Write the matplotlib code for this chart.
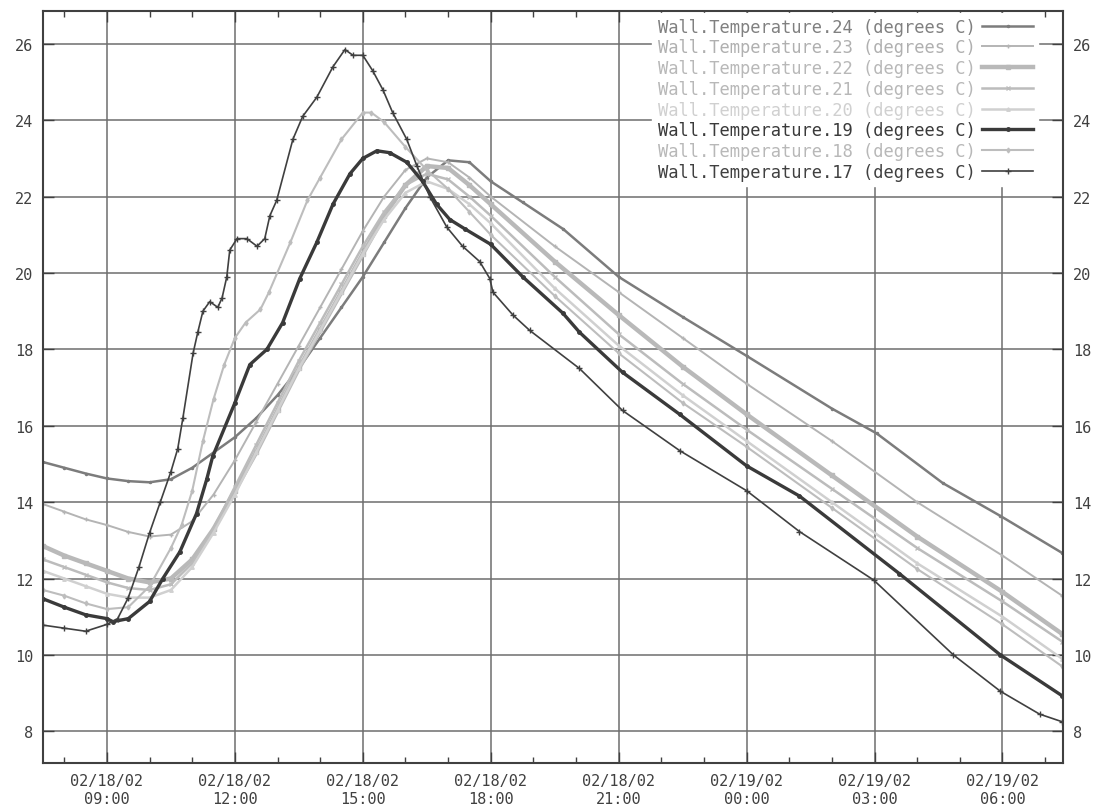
import matplotlib
matplotlib.use("Agg")
import matplotlib.pyplot as plt
import matplotlib.dates as mdates
import pandas as pd

# ── data: hours since 02/18/02 00:00, wall temperatures in degrees C ─────────
DAY0 = pd.Timestamp("2002-02-18")

h24 = [7.5, 8.0, 8.5, 9.0, 9.5, 10.0, 10.5, 11.0, 11.5, 12.0, 12.5, 13.0, 13.5, 14.0,
       14.5, 15.0, 15.5, 16.0, 16.5, 17.0, 17.5, 18.0, 18.75, 19.7, 21.0, 22.5, 24.0,
       26.0, 27.05, 28.6, 29.95, 31.4]
t24 = [15.05, 14.9, 14.75, 14.62, 14.55, 14.52, 14.6, 14.9, 15.3, 15.7, 16.2, 16.8, 17.5, 18.3,
       19.1, 19.9, 20.8, 21.7, 22.5, 22.95, 22.9, 22.4, 21.85, 21.15, 19.9, 18.85, 17.83,
       16.45, 15.8, 14.5, 13.64, 12.67]

h23 = [7.5, 8.0, 8.5, 9.0, 9.5, 10.0, 10.5, 11.0, 11.5, 12.0, 12.5, 13.0, 13.5, 14.0,
       14.5, 15.0, 15.5, 16.0, 16.5, 17.0, 17.5, 18.0, 19.5, 21.0, 22.5, 24.0, 26.0, 28.0,
       30.0, 31.4]
t23 = [13.95, 13.75, 13.55, 13.4, 13.22, 13.1, 13.15, 13.5, 14.2, 15.1, 16.1, 17.1, 18.1, 19.1,
       20.1, 21.1, 22.0, 22.7, 23.0, 22.9, 22.5, 22.0, 20.7, 19.5, 18.3, 17.1, 15.6, 14.0,
       12.6, 11.55]

h22 = h23
t22 = [12.85, 12.6, 12.4, 12.2, 12.0, 11.9, 12.0, 12.5, 13.3, 14.3, 15.3, 16.4, 17.5, 18.5,
       19.5, 20.5, 21.5, 22.3, 22.8, 22.75, 22.3, 21.8, 20.3, 18.9, 17.55, 16.3, 14.7, 13.1,
       11.65, 10.55]

h21 = h23
t21 = [12.5, 12.3, 12.1, 11.9, 11.75, 11.7, 11.85, 12.4, 13.3, 14.4, 15.5, 16.6, 17.7, 18.7,
       19.7, 20.7, 21.6, 22.3, 22.6, 22.45, 22.0, 21.5, 19.9, 18.4, 17.1, 15.9, 14.35, 12.8,
       11.4, 10.35]

h20 = h23
t20 = [12.2, 12.0, 11.8, 11.6, 11.5, 11.5, 11.7, 12.3, 13.2, 14.2, 15.3, 16.4, 17.5, 18.5,
       19.5, 20.5, 21.4, 22.1, 22.4, 22.2, 21.8, 21.3, 19.6, 18.1, 16.8, 15.6, 14.0, 12.4,
       11.0, 9.9]

h19 = [7.5, 8.0, 8.5, 9.0, 9.14, 9.5, 10.0, 10.31, 10.71, 11.1, 11.34, 11.48, 12.0, 12.35,
       12.75, 13.12, 13.52, 13.92, 14.3, 14.7, 15.0, 15.33, 15.63, 16.03, 16.4, 16.73, 17.04,
       17.4, 18.0, 18.75, 19.69, 20.08, 21.09, 22.43, 24.0, 25.24, 27.58, 29.95, 31.4]
t19 = [11.47, 11.25, 11.05, 10.95, 10.87, 10.95, 11.4, 12.0, 12.7, 13.7, 14.6, 15.2, 16.6, 17.6,
       18.0, 18.7, 19.85, 20.8, 21.8, 22.6, 23.0, 23.2, 23.15, 22.9, 22.4, 21.8, 21.4,
       21.15, 20.75, 19.9, 18.95, 18.45, 17.4, 16.3, 14.95, 14.16, 12.13, 10.0, 8.93]

h18 = [7.5, 8.0, 8.5, 9.0, 9.5, 10.0, 10.5, 10.75, 11.0, 11.25, 11.5, 11.75, 12.0, 12.25,
       12.6, 12.8, 13.3, 13.7, 14.0, 14.5, 15.0, 15.2, 15.5, 16.0, 16.5, 17.0, 17.5, 18.0,
       19.5, 21.0, 22.5, 24.0, 26.0, 28.0, 30.0, 31.4]
t18 = [11.7, 11.55, 11.35, 11.2, 11.25, 11.8, 12.8, 13.4, 14.3, 15.6, 16.7, 17.6, 18.3, 18.7,
       19.05, 19.5, 20.8, 21.9, 22.5, 23.5, 24.2, 24.2, 23.95, 23.3, 22.7, 22.2, 21.6, 21.0,
       19.4, 17.9, 16.6, 15.45, 13.85, 12.25, 10.8, 9.7]

h17 = [7.5, 8.0, 8.5, 9.0, 9.25, 9.5, 9.75, 10.0, 10.25, 10.5, 10.66, 10.78, 11.02, 11.13,
       11.25, 11.41, 11.6, 11.7, 11.81, 11.88, 12.05, 12.28, 12.52, 12.7, 12.82, 12.98, 13.36,
       13.59, 13.92, 14.3, 14.58, 14.77, 15.0, 15.23, 15.47, 15.7, 16.03, 16.27, 16.57, 16.97,
       17.34, 17.74, 17.98, 18.05, 18.52, 18.91, 20.08, 21.09, 22.43, 24.0, 25.24, 26.98,
       28.85, 29.95, 30.87, 31.4]
t17 = [10.78, 10.7, 10.62, 10.8, 10.95, 11.5, 12.3, 13.2, 14.0, 14.8, 15.4, 16.2, 17.9, 18.45,
       19.0, 19.25, 19.1, 19.35, 19.9, 20.6, 20.9, 20.9, 20.7, 20.9, 21.5, 21.9, 23.5,
       24.1, 24.6, 25.4, 25.85, 25.7, 25.7, 25.3, 24.8, 24.2, 23.5, 22.8, 22.0, 21.2,
       20.7, 20.3, 19.85, 19.5, 18.9, 18.5, 17.5, 16.4, 15.35, 14.3, 13.23, 11.96,
       10.0, 9.05, 8.45, 8.25]

labels = [f"Wall.Temperature.{n} (degrees C)" for n in (24, 23, 22, 21, 20, 19, 18, 17)]
series = [(h24, t24), (h23, t23), (h22, t22), (h21, t21),
          (h20, t20), (h19, t19), (h18, t18), (h17, t17)]

# style per series: colour, line width, marker, marker size
styles = [
    ("#7c7c7c", 1.8, ".", 3),
    ("#b4b4b4", 1.4, "+", 3),
    ("#b9b9b9", 3.2, "s", 2.5),
    ("#bcbcbc", 1.8, "x", 2.5),
    ("#d0d0d0", 1.8, "^", 2.5),
    ("#3a3a3a", 2.4, "o", 2.5),
    ("#bdbdbd", 1.5, "d", 2.5),
    ("#404040", 1.2, "+", 4),
]
text_colors = ["#808080", "#b0b0b0", "#b8b8b8", "#b8b8b8", "#d0d0d0",
               "#3a3a3a", "#b8b8b8", "#404040"]

MONO = "DejaVu Sans Mono"


def to_time(hours):
    return DAY0 + pd.to_timedelta(hours, unit="h")


fig = plt.figure(figsize=(10.98, 8.12), dpi=100)
ax = fig.add_axes([43 / 1098, 1 - 764 / 812, 1020 / 1098, 752 / 812])

for (hh, tt), lab, (col, lw, mk, ms) in zip(series, labels, styles):
    ax.plot(to_time(hh), tt, color=col, lw=lw, marker=mk, ms=ms,
            mew=1.0, mfc=col, mec=col, label=lab)

ax.set_xlim(to_time([7.5])[0], to_time([31.42])[0])
ax.set_ylim(7.17, 26.86)
ax.set_yticks(range(8, 27, 2))

ax.xaxis.set_major_locator(mdates.HourLocator(byhour=[0, 3, 6, 9, 12, 15, 18, 21]))
ax.xaxis.set_minor_locator(mdates.HourLocator())
ax.xaxis.set_major_formatter(mdates.DateFormatter("%m/%d/%y\n%H:%M"))

ax.grid(True, which="major", color="#6e6e6e", lw=1.1)
ax.set_axisbelow(True)
for sp in ax.spines.values():
    sp.set_color("#404040")
    sp.set_linewidth(1.5)

ax.tick_params(which="both", direction="in", top=True, right=True,
               labelright=True, colors="#404040", labelcolor="#404040")
ax.tick_params(which="major", length=8, width=1.0, labelsize=11, pad=7)
ax.tick_params(which="minor", length=4, width=1.0)
for lab in ax.get_xticklabels() + ax.get_yticklabels():
    lab.set_fontfamily(MONO)
for lab in ax.get_xticklabels():
    lab.set_linespacing(1.3)

leg = ax.legend(loc="upper right", bbox_to_anchor=(1 - 16 / 1020, 1 + 7 / 752),
                prop={"family": MONO, "size": 12.3}, markerfirst=False,
                handlelength=3.0, handletextpad=0.4, labelspacing=0.16,
                borderpad=0.3, frameon=True, fancybox=False, framealpha=1.0)
leg.get_frame().set_edgecolor("white")
leg.get_frame().set_facecolor("white")
for txt, c in zip(leg.get_texts(), text_colors):
    txt.set_color(c)

fig.savefig("out.png", dpi=100)
